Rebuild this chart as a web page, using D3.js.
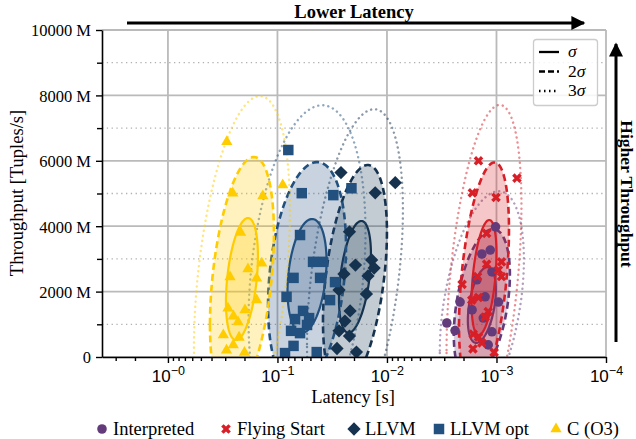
<!DOCTYPE html>
<html>
<head>
<meta charset="utf-8">
<script src="https://cdn.jsdelivr.net/npm/d3@7"></script>
<style>
  body { margin: 0; background: #fff; }
  svg { display: block; font-family: 'Liberation Serif', 'Times New Roman', serif; }
</style>
</head>
<body>
<div id="chart"></div>
<script>
// ---- data (latency in seconds, throughput in millions of tuples/s) ----
const seriesNames = ['Interpreted', 'Flying Start', 'LLVM', 'LLVM opt', 'C (O3)'];

const interpretedLat = [0.00102, 0.00114, 0.00136, 0.00110, 0.00151, 0.00127, 0.00215, 0.00096, 0.00132, 0.00284, 0.00239, 0.00110, 0.00167, 0.00119];
const interpretedTp = [3980, 3270, 3150, 2600, 2360, 1840, 1680, 1680, 1190, 1040, 810, 770, 1440, 370];

const flyingLat = [0.00146, 0.00065, 0.00166, 0.00101, 0.00123, 0.00123, 0.00090, 0.00096, 0.00149, 0.00090, 0.00206, 0.00168, 0.00146, 0.00119, 0.00127, 0.00163, 0.00146, 0.00136, 0.00164, 0.00105];
const flyingTp = [6000, 5470, 5020, 4880, 3780, 2840, 2910, 2660, 2460, 2460, 2220, 1740, 1820, 1390, 1220, 700, 610, 430, 250, 140];

const llvmLat = [0.0263, 0.0128, 0.0084, 0.0220, 0.0138, 0.0194, 0.0131, 0.0247, 0.0149, 0.0274, 0.0154, 0.0217, 0.0242, 0.0274, 0.0220, 0.0286, 0.0190];
const llvmTp = [5640, 5020, 5330, 3830, 2970, 2810, 2720, 2540, 2480, 2050, 1930, 1410, 1100, 800, 640, 260, 150];

const llvmOptLat = [0.0796, 0.0600, 0.0309, 0.0211, 0.0622, 0.0473, 0.0383, 0.0713, 0.0408, 0.0298, 0.0826, 0.0331, 0.0584, 0.0691, 0.0514, 0.0751, 0.0622, 0.0537, 0.0713, 0.0438, 0.0853];
const llvmOptTp = [6330, 5010, 4950, 5160, 3730, 2910, 2910, 2420, 2420, 2290, 1840, 1740, 1410, 1160, 1190, 800, 730, 980, 340, 150, 120];

const cLat = [0.290, 0.0895, 0.256, 0.136, 0.217, 0.186, 0.139, 0.271, 0.155, 0.155, 0.283, 0.198, 0.252, 0.229, 0.312, 0.224, 0.253, 0.292, 0.200];
const cTp = [6580, 5260, 5010, 4920, 3810, 2690, 2870, 2450, 2410, 1740, 1490, 1440, 1250, 1070, 670, 600, 370, 210, 140];

// spread of each series: centre, std dev (log10 latency / throughput), correlation
const ellCenterLat = [0.00136, 0.00130, 0.0196, 0.0537, 0.211];
const ellCenterTp = [1590, 2430, 2450, 2480, 2385];
const ellSdLog = [0.128, 0.114, 0.146, 0.178, 0.146];
const ellSdTp = [1160, 1760, 1710, 1740, 1865];
const ellRho = [-0.4, -0.42, -0.4, -0.26, -0.375];

const sigmaLevels = [1, 2, 3];
const sigmaLabels = ['', '2', '3'];

const yMajorTicks = [0, 2000, 4000, 6000, 8000, 10000];
const yMinorTicks = [1000, 3000, 5000, 7000, 9000];
const xMajorTicks = [1, 0.1, 0.01, 0.001, 0.0001];
const xMajorLabels = ['\u22120', '\u22121', '\u22122', '\u22123', '\u22124'];

// ---- styles ----
const seriesColors = ['#633b7b', '#d81e27', '#15324f', '#22517f', '#ffcc00'];
const seriesSymbols = ['circle', 'x', 'diamond', 'square', 'triangle'];

const W = 636, H = 439;
const svg = d3.select('#chart').append('svg').attr('width', W).attr('height', H);
svg.append('rect').attr('width', W).attr('height', H).attr('fill', '#fff');

const x = d3.scaleLog().domain([4, 1e-4]).range([102, 606]);
const y = d3.scaleLinear().domain([0, 10000]).range([357, 30]);

const series = [
  [interpretedLat, interpretedTp],
  [flyingLat, flyingTp],
  [llvmLat, llvmTp],
  [llvmOptLat, llvmOptTp],
  [cLat, cTp],
].map(([lat, tp], i) => ({ name: seriesNames[i], points: lat.map((l, j) => ({ lat: l, tp: tp[j] })) }));

// grid
const grid = svg.append('g');
yMinorTicks.forEach((t) => {
  grid.append('line').attr('x1', x.range()[0]).attr('x2', x.range()[1]).attr('y1', y(t)).attr('y2', y(t))
    .attr('stroke', '#b0b0b0').attr('stroke-width', 1.3).attr('stroke-dasharray', '1.3,3.5');
});
yMajorTicks.forEach((t) => {
  grid.append('line').attr('x1', x.range()[0]).attr('x2', x.range()[1]).attr('y1', y(t)).attr('y2', y(t))
    .attr('stroke', '#bababa').attr('stroke-width', 1.8);
});
xMajorTicks.forEach((t) => {
  grid.append('line').attr('x1', x(t)).attr('x2', x(t)).attr('y1', y.range()[0]).attr('y2', y.range()[1])
    .attr('stroke', '#bababa').attr('stroke-width', 1.8);
});

svg.append('clipPath').attr('id', 'plotclip').append('rect')
  .attr('x', 102).attr('y', 30).attr('width', 504).attr('height', 327);

// ellipses
function ellipsePath(i, k) {
  const pts = [];
  const n = 160;
  for (let j = 0; j < n; j++) {
    const t = (2 * Math.PI * j) / n;
    const z1 = Math.cos(t), z2 = Math.sin(t);
    const u = Math.log10(ellCenterLat[i]) + k * ellSdLog[i] * z1;
    const v = ellCenterTp[i] + k * ellSdTp[i] * (ellRho[i] * z1 + Math.sqrt(1 - ellRho[i] ** 2) * z2);
    pts.push([x(Math.pow(10, u)), y(v)]);
  }
  return d3.line().curve(d3.curveLinearClosed)(pts);
}

const ellG = svg.append('g').attr('clip-path', 'url(#plotclip)');
series.forEach((s, i) => {
  const c = seriesColors[i];
  ellG.append('path').attr('d', ellipsePath(i, 2)).attr('fill', c).attr('fill-opacity', 0.25)
    .attr('stroke', c).attr('stroke-width', 2.6).attr('stroke-dasharray', '7,4');
  ellG.append('path').attr('d', ellipsePath(i, 1)).attr('fill', c).attr('fill-opacity', 0.25)
    .attr('stroke', c).attr('stroke-width', 2.2);
  ellG.append('path').attr('d', ellipsePath(i, 3)).attr('fill', 'none')
    .attr('stroke', c).attr('stroke-opacity', 0.5).attr('stroke-width', 2.4)
    .attr('stroke-linecap', 'round').attr('stroke-dasharray', '0.1,5');
});

// markers
function symbolPath(kind) {
  if (kind === 'circle') return { d: d3.symbol(d3.symbolCircle, 72)(), rot: 0 };
  if (kind === 'x') return { d: d3.symbol(d3.symbolCross, 58)(), rot: 45 };
  if (kind === 'diamond') return { d: d3.symbol(d3.symbolSquare, 88)(), rot: 45 };
  if (kind === 'square') return { d: d3.symbol(d3.symbolSquare, 110)(), rot: 0 };
  return { d: d3.symbol(d3.symbolTriangle, 55)(), rot: 0 };
}

const markG = svg.append('g').attr('clip-path', 'url(#plotclip)');
series.forEach((s, i) => {
  const sym = symbolPath(seriesSymbols[i]);
  markG.append('g').selectAll('path').data(s.points).join('path')
    .attr('d', sym.d)
    .attr('transform', (d) => `translate(${x(d.lat)},${y(d.tp)}) rotate(${sym.rot})`)
    .attr('fill', seriesColors[i]);
});

// axes
const axisColor = '#000';
const xAxisG = svg.append('g').attr('transform', `translate(0,${y(0)})`)
  .call(d3.axisBottom(x).tickValues(xMajorTicks).tickSize(6).tickSizeOuter(0).tickFormat(() => ''));
const xMinor = [];
for (let e = 0; e >= -3; e--) {
  for (let m = 2; m <= 9; m++) {
    const v = m * Math.pow(10, e - 1);
    if (v <= 4 && v >= 1e-3) xMinor.push(v);
  }
}
[2, 3].forEach((m) => xMinor.push(m));
svg.append('g').attr('transform', `translate(0,${y(0)})`)
  .call(d3.axisBottom(x).tickValues(xMinor).tickSize(4).tickSizeOuter(0).tickFormat(() => ''))
  .call((g) => g.select('.domain').remove());

xAxisG.selectAll('.tick').each(function (d, i) {
  const t = d3.select(this).append('text').attr('y', 25).attr('fill', '#000')
    .attr('text-anchor', 'middle').attr('font-size', 17);
  t.append('tspan').text('10');
  t.append('tspan').attr('dy', -7).attr('font-size', 12.5).text(xMajorLabels[i]);
});

const yAxisG = svg.append('g').attr('transform', `translate(${x.range()[0]},0)`)
  .call(d3.axisLeft(y).tickValues(yMajorTicks).tickSize(6).tickSizeOuter(0)
    .tickFormat((d) => (d === 0 ? '0' : `${d} M`)));
yAxisG.selectAll('text').attr('font-size', 16.5).attr('font-family', "'Liberation Serif', serif").attr('fill', '#000').attr('x', -11).attr('dy', '0.36em');
svg.append('g').attr('transform', `translate(${x.range()[0]},0)`)
  .call(d3.axisLeft(y).tickValues(yMinorTicks).tickSize(5).tickSizeOuter(0).tickFormat(() => ''))
  .call((g) => g.select('.domain').remove());

svg.selectAll('.domain').attr('stroke', axisColor).attr('stroke-width', 1.6);
svg.selectAll('.tick line').attr('stroke', axisColor).attr('stroke-width', 1.4);

// axis titles
svg.append('text').attr('x', 353).attr('y', 403).attr('text-anchor', 'middle')
  .attr('font-size', 18.5).text('Latency [s]');
svg.append('text').attr('transform', 'translate(23,193) rotate(-90)').attr('text-anchor', 'middle')
  .attr('font-size', 18.5).text('Throughput [Tuples/s]');

// direction annotations
svg.append('defs').append('marker').attr('id', 'arrowhead')
  .attr('viewBox', '0 0 10 10').attr('refX', 9).attr('refY', 5)
  .attr('markerWidth', 20).attr('markerHeight', 14).attr('markerUnits', 'userSpaceOnUse')
  .attr('orient', 'auto')
  .append('path').attr('d', 'M0,0 L10,5 L0,10 z').attr('fill', '#000');

svg.append('line').attr('x1', 127).attr('x2', 584).attr('y1', 23).attr('y2', 23)
  .attr('stroke', '#000').attr('stroke-width', 3)
  .attr('marker-end', 'url(#arrowhead)');
svg.append('text').attr('x', 354).attr('y', 18).attr('text-anchor', 'middle')
  .attr('font-size', 18.5).attr('font-weight', 'bold').text('Lower Latency');

svg.append('line').attr('x1', 616).attr('x2', 616).attr('y1', 342).attr('y2', 44)
  .attr('stroke', '#000').attr('stroke-width', 3)
  .attr('marker-end', 'url(#arrowhead)');
svg.append('text').attr('transform', 'translate(621,194) rotate(90)').attr('text-anchor', 'middle')
  .attr('font-size', 17.5).attr('font-weight', 'bold').text('Higher Throughput');

// sigma legend
const sl = svg.append('g');
sl.append('rect').attr('x', 533.5).attr('y', 39.5).attr('width', 64).attr('height', 66).attr('rx', 3)
  .attr('fill', '#fff').attr('fill-opacity', 0.85).attr('stroke', '#cccccc').attr('stroke-width', 1.3);
const dashes = [null, '6,3', '1.5,3.5'];
sigmaLevels.forEach((lv, i) => {
  const yy = 52 + i * 19.5;
  sl.append('line').attr('x1', 539).attr('x2', 559).attr('y1', yy).attr('y2', yy)
    .attr('stroke', '#000').attr('stroke-width', 2.3).attr('stroke-dasharray', dashes[i]);
  const t = sl.append('text').attr('x', 568).attr('y', yy + 5).attr('font-size', 17.5);
  t.append('tspan').text(sigmaLabels[i]);
  t.append('tspan').attr('font-style', 'italic').text('\u03c3');
});

// series legend
const legendX = [102, 226, 354, 439, 556];
const lg = svg.append('g');
series.forEach((s, i) => {
  const sym = symbolPath(seriesSymbols[i]);
  lg.append('path').attr('d', sym.d)
    .attr('transform', `translate(${legendX[i]},429) rotate(${sym.rot})`)
    .attr('fill', seriesColors[i]);
  lg.append('text').attr('x', legendX[i] + 11).attr('y', 435).attr('font-size', 18.5).text(s.name);
});
</script>
</body>
</html>
